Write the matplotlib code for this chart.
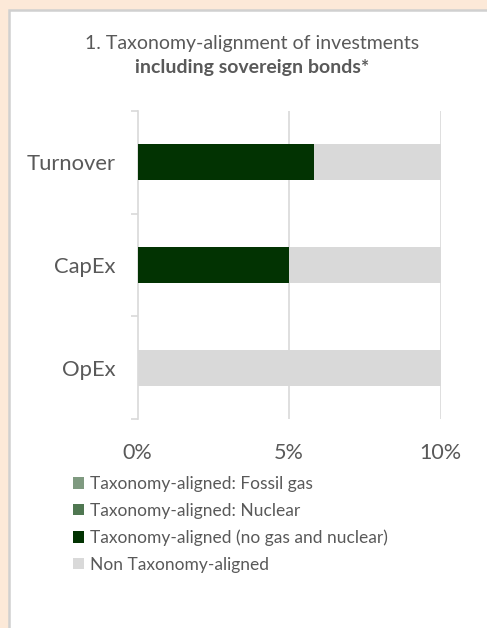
## LIBRARY------------------------------------------------------------------------
import numpy as np
import matplotlib
matplotlib.use('Agg')
import matplotlib.pyplot as plt
import matplotlib.patches as patches
import matplotlib.ticker as ticker
## -------------------------------------------------------------------------------

## DATA---------------------------------------------------------------------------
categories = ['Turnover', 'CapEx', 'OpEx']
fossil_gas = [0.0, 0.0, 0.0]
nuclear = [0.0, 0.0, 0.0]
aligned = [5.83, 5.0, 0.0]
non_aligned = [94.17, 95.0, 100.0]

series_names = ['Taxonomy-aligned: Fossil gas',
                'Taxonomy-aligned: Nuclear',
                'Taxonomy-aligned (no gas and nuclear)',
                'Non Taxonomy-aligned']
x_ticks = [0, 5, 10]
x_tick_labels = ['0%', '5%', '10%']
## -------------------------------------------------------------------------------

font_type = 'Lato'
text_color = '#595959'
grid_color = '#D9D9D9'
colors = ['#7F9A80', '#4F7751', '#023302', '#D9D9D9']

plt.rcParams['font.family'] = [font_type, 'DejaVu Sans']

W, H = 487, 628
fig = plt.figure(figsize=(W / 100, H / 100), dpi=100)
fig.patch.set_facecolor('#FCE9D8')

# white panel with grey border (runs off the right and bottom edges)
panel = patches.Rectangle((9 / W, -0.1), 1.2, 1.1 - 10 / H, transform=fig.transFigure,
                          facecolor='white', edgecolor='#D0D0D0', linewidth=1.8, zorder=-5)
fig.patches.append(panel)

ax = fig.add_axes([137.5 / W, 1 - 419 / H, 303 / W, 308 / H])
ax.set_facecolor('none')
ax.set_zorder(2)

ypos = np.arange(len(categories))
left = np.zeros(len(categories))
bars = []
for name, vals, c in zip(series_names, [fossil_gas, nuclear, aligned, non_aligned], colors):
    b = ax.barh(ypos, vals, left=left, height=0.35, color=c, label=name, zorder=3)
    bars.append(b)
    left = left + np.array(vals)

ax.set_xlim(0, 10)
ax.set_ylim(2.5, -0.5)

# grid lines
ax.set_xticks(x_ticks)
ax.set_xticklabels(x_tick_labels, fontsize=15.5, color=text_color)
ax.tick_params(axis='x', length=0, pad=17)
for xv in x_ticks[1:]:
    ax.axvline(xv, color=grid_color, linewidth=1.2, zorder=1)

# category axis with boundary ticks
ax.yaxis.set_major_locator(ticker.FixedLocator([-0.5, 0.5, 1.5, 2.5]))
ax.yaxis.set_major_formatter(ticker.NullFormatter())
ax.yaxis.set_minor_locator(ticker.FixedLocator(ypos))
ax.yaxis.set_minor_formatter(ticker.FixedFormatter(categories))
ax.tick_params(axis='y', which='major', length=5, width=1.2, color=grid_color)
ax.tick_params(axis='y', which='minor', length=0, pad=16, labelsize=15.8, labelcolor=text_color)

for s in ['top', 'right', 'bottom']:
    ax.spines[s].set_visible(False)
ax.spines['left'].set_color(grid_color)
ax.spines['left'].set_linewidth(1.2)

# title
fig.text(252 / W, 1 - 43 / H, '1. Taxonomy-alignment of investments',
         ha='center', va='center', fontsize=14, color=text_color)
fig.text(252 / W, 1 - 68 / H, 'including sovereign bonds*',
         ha='center', va='center', fontsize=14, fontweight='bold', color=text_color)

# legend
leg = fig.legend(handles=bars, labels=series_names, loc='upper left',
                 bbox_to_anchor=(73 / W, 1 - 476 / H), frameon=False,
                 fontsize=12.5, handlelength=0.62, handleheight=0.62,
                 handletextpad=0.35, labelspacing=0.62, borderpad=0, borderaxespad=0)
for t in leg.get_texts():
    t.set_color(text_color)

fig.savefig('out.png', dpi=100, facecolor=fig.get_facecolor())
